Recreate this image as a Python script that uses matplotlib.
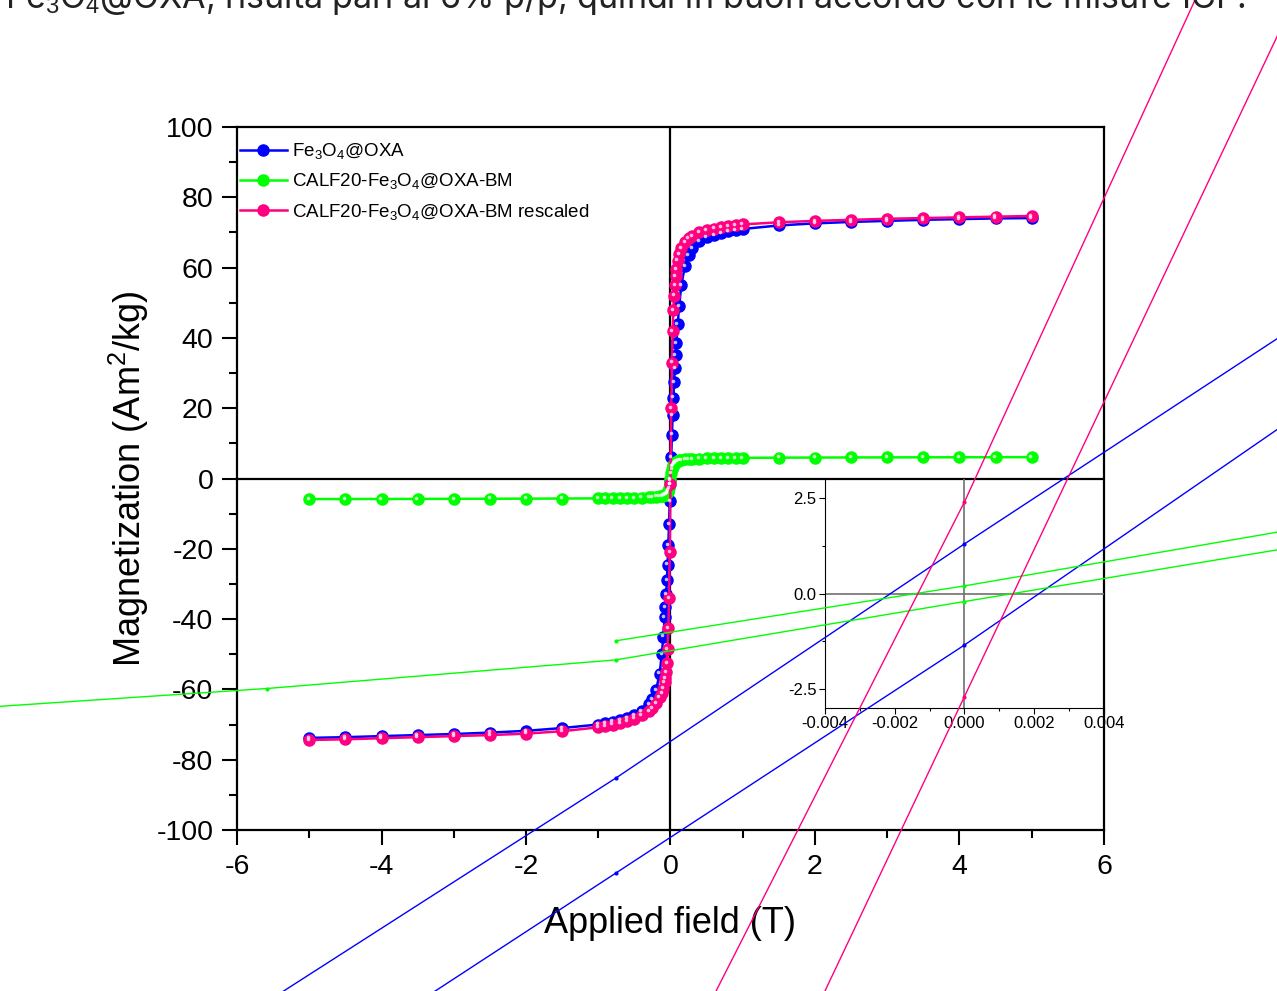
import matplotlib
matplotlib.use("Agg")
import matplotlib.pyplot as plt
from matplotlib.ticker import MultipleLocator, FormatStrFormatter
from matplotlib.transforms import offset_copy

plt.rcParams['font.family'] = ['Liberation Sans', 'DejaVu Sans']
plt.rcParams['mathtext.fontset'] = 'custom'
plt.rcParams['mathtext.rm'] = 'Liberation Sans'
plt.rcParams['mathtext.it'] = 'Liberation Sans:italic'
plt.rcParams['axes.unicode_minus'] = False

# main loop (one sweep, T and Am2/kg)
field = [-5, -4.5, -4, -3.5, -3, -2.5, -2, -1.5, -1, -0.9, -0.8, -0.7, -0.6, -0.5,
         -0.4, -0.3, -0.25, -0.2, -0.15, -0.12, -0.1, -0.08, -0.07, -0.06, -0.05,
         -0.04, -0.03, -0.02, -0.01, 0,
         0.01, 0.02, 0.03, 0.04, 0.05, 0.06, 0.07, 0.08, 0.1, 0.12, 0.15, 0.2,
         0.25, 0.3, 0.4, 0.5, 0.6, 0.7, 0.8, 0.9, 1, 1.5, 2, 2.5, 3, 3.5, 4, 4.5, 5]
m_oxa = [-73.8, -73.6, -73.3, -73.0, -72.7, -72.3, -71.8, -71.0, -70.0, -69.6, -69.2,
         -68.7, -68.1, -67.3, -66.2, -64.3, -62.8, -60.3, -55.5, -50.0, -45.0, -39.5,
         -36.5, -33.0, -29.0, -24.5, -19.0, -13.0, -6.5, -0.5,
         6.0, 12.5, 18.0, 23.0, 27.5, 31.5, 35.0, 38.5, 44.0, 49.0, 55.0, 60.5,
         63.5, 65.5, 67.5, 68.6, 69.3, 69.9, 70.3, 70.7, 71.0, 72.0, 72.6, 73.0,
         73.3, 73.6, 73.8, 74.0, 74.1]
m_calf = [-5.85, -5.84, -5.82, -5.80, -5.78, -5.76, -5.73, -5.70, -5.65, -5.63, -5.61,
          -5.58, -5.55, -5.50, -5.42, -5.33, -5.27, -5.18, -5.05, -4.95, -4.85, -4.70,
          -4.60, -4.45, -4.25, -3.95, -3.45, -2.75, -1.70, -0.10,
          1.60, 2.70, 3.40, 3.90, 4.20, 4.45, 4.65, 4.82, 5.03, 5.17, 5.30, 5.45,
          5.55, 5.60, 5.69, 5.74, 5.78, 5.81, 5.84, 5.86, 5.88, 5.93, 5.96, 5.99,
          6.01, 6.03, 6.04, 6.06, 6.07]
m_calf_resc = [-74.4, -74.2, -73.9, -73.6, -73.3, -73.0, -72.6, -71.9, -70.8, -70.4, -70.0,
               -69.5, -69.0, -68.3, -67.4, -66.2, -65.3, -64.0, -62.3, -61.0, -59.8, -58.0,
               -56.8, -55.0, -52.5, -48.5, -42.5, -34.0, -21.0, -1.5,
               20.0, 33.0, 42.0, 48.0, 52.0, 55.0, 57.5, 59.5, 62.0, 63.8, 65.5, 67.2,
               68.3, 69.0, 70.0, 70.6, 71.1, 71.5, 71.8, 72.1, 72.3, 72.9, 73.3, 73.6,
               73.9, 74.1, 74.3, 74.5, 74.7]

# low-field detail (T and Am2/kg), both branches
oxa_desc_H = [-0.02, -0.01, 0.0, 0.01]
oxa_desc_M = [-10.7, -4.84, 1.3, 7.3]
oxa_asc_H = [-0.02, -0.01, 0.0, 0.01]
oxa_asc_M = [-13.3, -7.33, -1.35, 4.95]
calf_desc_H = [-0.01, 0.0, 0.01]
calf_desc_M = [-1.24, 0.2, 1.77]
calf_asc_H = [-0.03, -0.02, -0.01, 0.0, 0.01]
calf_asc_M = [-3.1, -2.49, -1.74, -0.21, 1.3]
resc_desc_H = [-0.01, 0.0, 0.01]
resc_desc_M = [-15.6, 2.4, 22.3]
resc_asc_H = [-0.01, 0.0, 0.01]
resc_asc_M = [-22.0, -2.7, 16.6]

BLUE = '#0000ff'
GREEN = '#00ff00'
PINK = '#ff0080'

fig = plt.figure(figsize=(12.77, 9.91), dpi=100)
ax = fig.add_axes([0.1856, 0.1625, 0.6789, 0.7093])

ax.axhline(0, color='black', lw=1.6, zorder=1)
ax.axvline(0, color='black', lw=1.6, zorder=1)

hl = offset_copy(ax.transData, fig=fig, x=-0.9, y=0.9, units='points')
series = [(m_oxa, BLUE, 'Fe$_3$O$_4$@OXA'),
          (m_calf, GREEN, 'CALF20-Fe$_3$O$_4$@OXA-BM'),
          (m_calf_resc, PINK, 'CALF20-Fe$_3$O$_4$@OXA-BM rescaled')]
handles = []
for vals, col, lab in series:
    h, = ax.plot(field, vals, '-o', color=col, lw=1.8, ms=8, mec=col, mfc=col,
                 label=lab, zorder=3)
    ax.plot(field, vals, 'o', color='white', ms=2.6, alpha=0.75, mew=0,
            transform=hl, zorder=4)
    handles.append(h)

ax.set_xlim(-6, 6)
ax.set_ylim(-100, 100)
ax.xaxis.set_major_locator(MultipleLocator(2))
ax.xaxis.set_minor_locator(MultipleLocator(1))
ax.yaxis.set_major_locator(MultipleLocator(20))
ax.yaxis.set_minor_locator(MultipleLocator(10))
ax.tick_params(which='major', direction='out', length=11, width=1.5, labelsize=20.5, pad=6)
ax.tick_params(which='minor', direction='out', length=6, width=1.5)
for sp in ax.spines.values():
    sp.set_linewidth(1.6)
ax.set_xlabel('Applied field (T)', fontsize=26, labelpad=19)
ax.set_ylabel('Magnetization (Am$^2$/kg)', fontsize=26, labelpad=4)

leg = ax.legend(handles=handles, loc='upper left', frameon=False, fontsize=13.5,
                handlelength=2.5, handletextpad=0.3, labelspacing=0.55,
                borderaxespad=0.2, borderpad=0.55, bbox_to_anchor=(-0.013, 1.0))

# inset
ins = fig.add_axes([0.646, 0.2856, 0.2185, 0.2310])
ins.patch.set_alpha(0)
ins.axhline(0, color='#707070', lw=1.2, zorder=1)
ins.axvline(0, color='#707070', lw=1.2, zorder=1)
for H, M, col in [(oxa_desc_H, oxa_desc_M, BLUE), (oxa_asc_H, oxa_asc_M, BLUE),
                  (calf_desc_H, calf_desc_M, GREEN), (calf_asc_H, calf_asc_M, GREEN),
                  (resc_desc_H, resc_desc_M, PINK), (resc_asc_H, resc_asc_M, PINK)]:
    ins.plot(H, M, '-o', color=col, lw=1.0, ms=2.0, clip_on=False, zorder=5)
ins.set_xlim(-0.004, 0.004)
ins.set_ylim(-3.0, 3.0)
ins.xaxis.set_major_locator(MultipleLocator(0.002))
ins.xaxis.set_minor_locator(MultipleLocator(0.001))
ins.yaxis.set_major_locator(MultipleLocator(2.5))
ins.yaxis.set_minor_locator(MultipleLocator(1.25))
ins.xaxis.set_major_formatter(FormatStrFormatter('%.3f'))
ins.yaxis.set_major_formatter(FormatStrFormatter('%.1f'))
ins.tick_params(which='major', direction='out', length=4, width=0.8, labelsize=12, pad=2)
ins.tick_params(which='minor', direction='out', length=2.5, width=0.8)
ins.spines['top'].set_visible(False)
ins.spines['right'].set_visible(False)
ins.spines['left'].set_linewidth(0.8)
ins.spines['bottom'].set_linewidth(0.8)

# paragraph line above the figure, cut by the top edge as in the source page
fig.text(0.004, 1 - 8 / 991, 'Fe$_3$O$_4$@OXA, risulta pari al 6% p/p, quindi in buon accordo con le misure ICP.',
         family=['Inter', 'DejaVu Sans'], fontsize=24.5, color='#222222', va='baseline', ha='left')

fig.savefig('out.png', dpi=100)
